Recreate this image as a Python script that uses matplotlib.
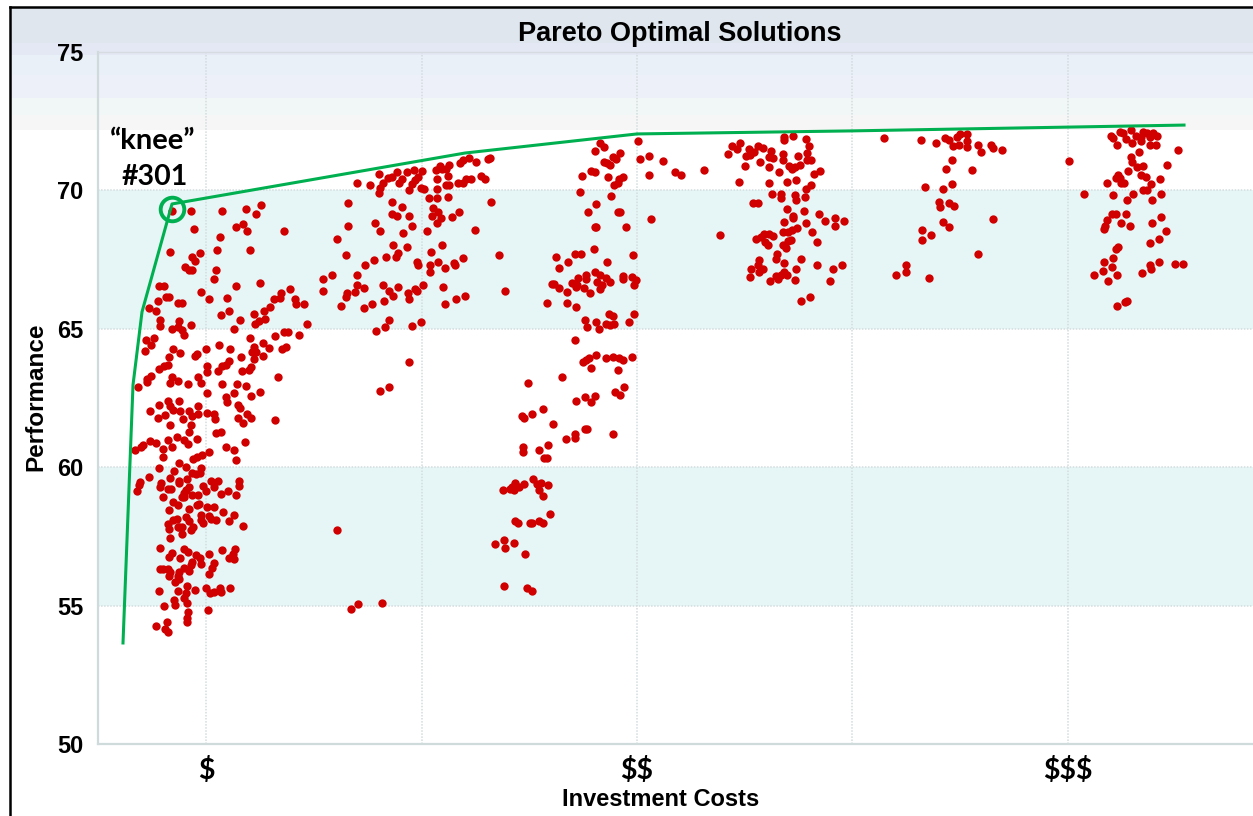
import numpy as np
import matplotlib
matplotlib.use("Agg")
import matplotlib.pyplot as plt
from matplotlib.lines import Line2D
from matplotlib.patches import Rectangle

W, H = 1253, 816

# cost has no numbers on the chart, the scale here is just one unit per pixel from the axis
cost_low_top = [74,93,124,148,163,158,96,138,145,149,186,122,72,102,94,97,119,152,87,91,94,118,116,61,66,138,162,103,68,71,60,111,129,192,183,182,176,80,84,197,198,206,172,51,58,166,131,123,156,167,142,161,157,62,81,62,93,74,80,84,86,136,209,186,190,201,177,152,48,56,53,47,165,156,121,75,108,132,82,99,97,171,188,184,154,158,143,165,71,156,131,128,124,120,109,109,70,66,61,153,144,53,49,74,100,180,151]
perf_low_top = [69.26,69.26,69.26,69.32,69.46,69.13,68.59,68.68,68.77,68.54,68.54,68.31,67.76,67.74,67.58,67.46,67.85,67.85,67.25,67.12,67.11,67.12,66.79,66.53,66.56,66.56,66.64,66.34,66.15,66.15,66.02,66.06,66.12,66.43,66.29,66.12,66.06,65.93,65.93,66.07,65.88,65.88,65.79,65.74,65.65,65.65,65.65,65.50,65.52,65.37,65.32,65.27,65.19,65.32,65.27,65.09,65.14,65.0,65.05,64.95,64.77,65.0,65.19,64.87,64.87,64.77,64.73,64.68,64.59,64.68,64.41,64.18,64.50,64.35,64.41,64.27,64.26,64.26,64.13,64.08,64.01,64.31,64.36,64.27,64.17,64.17,63.99,64.03,63.99,63.90,63.84,63.71,63.66,63.48,63.67,63.43,63.69,63.66,63.53,63.61,63.48,63.29,63.20,63.26,63.26,63.26,63.50]

cost_low_bottom = [40,49,72,80,90,103,124,139,148,109,136,128,129,153,162,81,70,61,72,75,52,82,91,100,140,142,60,67,85,94,100,109,116,117,140,149,153,145,177,72,93,91,118,123,79,70,52,58,45,43,37,86,90,99,74,65,65,147,128,136,111,104,99,95,138,81,61,88,103,76,102,94,98,51,72,89,42,41,39,63,62,81,81,70,73,113,120,141,141,105,116,108,91,88,86,84,86,65,123,130,138,94,100,75,80,101,99,109,116,71,91,125,136,103,111,118,113,88,91,79,75,70,71,81,80,84,95,93,103,105,131,145,84,72,62,86,90,124,137,135,111,74,71,82,98,102,131,136,94,103,116,93,86,62,65,70,72,71,81,80,91,114,111,81,77,89,61,80,97,108,112,116,122,123,132,88,86,89,76,77,66,110,90,89,89,69,58,67,70]
perf_low_bottom = [62.91,63.09,63.05,63.11,63.01,63.03,63.01,63.01,62.95,62.67,62.67,62.55,62.34,62.58,62.72,62.40,62.40,62.25,62.22,62.07,62.03,62.03,62.03,62.22,62.25,62.14,61.79,61.88,61.74,61.85,61.92,61.97,61.92,61.74,61.79,61.91,61.79,61.61,61.70,61.52,61.52,61.28,61.25,61.28,61.10,60.97,60.93,60.88,60.79,60.74,60.61,60.98,60.84,61.02,60.74,60.66,60.38,60.92,60.74,60.61,60.56,60.43,60.38,60.28,60.25,60.15,59.97,60.02,59.97,59.87,59.79,59.79,59.74,59.64,59.60,59.56,59.46,59.37,59.14,59.42,59.28,59.51,59.42,59.23,59.23,59.51,59.51,59.51,59.32,59.33,59.28,59.14,59.28,59.19,59.05,58.91,58.91,58.91,59.04,59.14,58.99,59.0,59.0,58.73,58.63,58.68,58.63,58.55,58.55,58.45,58.50,58.37,58.27,58.27,58.23,58.09,58.14,58.19,58.04,58.14,58.09,57.95,57.76,57.85,57.85,57.85,57.85,57.72,58.09,57.99,58.04,57.86,57.58,57.45,57.09,57.04,56.95,57.01,57.04,56.88,56.86,56.91,56.76,56.73,56.82,56.73,56.73,56.68,56.58,56.50,56.54,56.45,56.37,56.31,56.31,56.31,56.21,56.08,56.21,56.08,56.26,56.35,56.13,55.95,55.84,55.72,55.54,55.54,55.58,55.63,55.44,55.48,55.63,55.50,55.62,55.44,55.26,55.11,55.20,55.03,54.99,54.85,54.76,54.57,54.42,54.40,54.26,54.17,54.03]

cost_mid_left = [259,272,281,285,282,281,290,294,299,304,301,309,316,324,320,317,314,311,323,326,339,339,338,342,344,348,351,350,348,351,360,365,368,373,362,365,371,378,390,392,383,387,331,339,350,250,294,304,335,340,361,294,299,311,334,343,354,339,393,250,277,282,314,305,329,377,239,295,309,344,333,248,300,298,288,276,267,319,320,332,340,347,356,357,365,401,332,259,234,225,225,259,266,257,249,248,285,291,295,300,325,317,319,310,311,345,367,407,358,347,286,274,266,243,291,323,287,278,314,311,291,282,239,253,260,284]
perf_mid_left = [70.28,70.19,70.60,70.28,70.10,69.91,70.46,70.47,70.65,70.42,70.28,70.65,70.73,70.70,70.47,70.37,70.23,70.0,70.10,70.05,70.42,70.05,70.73,70.88,70.78,70.78,70.93,70.52,70.19,70.19,70.28,70.28,70.41,70.41,70.98,71.10,71.16,71.02,71.12,71.16,70.52,70.41,69.72,69.72,69.77,69.54,69.59,69.41,69.36,69.23,69.23,69.13,69.08,69.08,69.08,68.99,69.04,68.81,69.59,68.71,68.81,68.53,68.71,68.45,68.53,68.58,68.25,68.02,67.94,68.02,67.79,67.65,67.75,67.60,67.60,67.48,67.29,67.42,67.32,67.30,67.43,67.20,67.38,67.29,67.57,67.65,67.07,66.93,66.93,66.79,66.37,66.57,66.47,66.32,66.29,66.14,66.57,66.37,66.19,66.52,66.60,66.42,66.37,66.28,66.06,66.52,66.19,66.37,66.06,65.91,66.01,65.88,65.74,65.83,65.32,65.23,65.05,64.91,65.10,63.81,62.89,62.75,57.73,54.88,55.06,55.09]

cost_mid_top = [540,502,506,497,522,515,518,506,509,512,542,551,565,493,497,484,510,525,521,520,516,551,577,583,482,513,498,490,520,522,553,497,498,528,496,477,483,535,458,470,509,461,497,502,488,488,480,508,512,525,525,534,538,536,499,504,474,479,478,454,456,461,486,502,469,492,449,469,478,511,515,536,487,498,531,508,512,516,489,501,477,498,491,488,485,508,515,521,525,534,493,520]
perf_mid_top = [71.79,71.70,71.58,71.42,71.34,71.22,71.12,71.02,70.98,70.91,71.12,71.25,71.06,70.70,70.65,70.52,70.47,70.47,70.41,70.25,70.18,70.57,70.65,70.55,69.96,69.78,69.51,69.23,69.23,69.23,68.95,68.67,68.67,68.67,67.89,67.70,67.70,67.66,67.58,67.40,67.43,67.20,67.07,66.94,66.94,66.79,66.84,66.84,66.70,66.90,66.79,66.87,66.76,66.60,66.70,66.60,66.66,66.60,66.52,66.61,66.61,66.48,66.48,66.42,66.34,66.29,65.93,65.93,65.78,65.52,65.47,65.55,65.32,65.24,65.24,65.19,65.14,65.19,65.05,65.0,64.59,64.05,63.93,63.87,63.81,63.95,63.99,63.95,63.87,63.99,63.60,63.51]

cost_mid_bottom = [430,464,526,517,522,478,487,497,493,445,434,424,426,455,487,489,515,477,477,468,425,450,425,441,446,449,435,417,426,414,421,405,412,416,439,443,450,441,445,452,417,420,432,434,441,445,406,397,416,407,427,406,429,434]
perf_mid_bottom = [63.04,63.27,62.89,62.71,62.62,62.39,62.53,62.58,62.34,62.11,61.93,61.85,61.79,61.56,61.38,61.38,61.20,61.20,61.04,61.01,60.74,60.79,60.54,60.62,60.33,60.33,59.56,59.43,59.38,59.29,59.27,59.18,59.23,59.19,59.39,59.44,59.35,59.19,58.95,58.32,58.04,57.99,57.99,57.99,58.04,57.99,57.36,57.22,57.27,57.07,56.86,55.71,55.63,55.53]

cost_high_a = [695,686,686,708,711,642,634,639,630,651,660,665,656,652,648,673,671,675,685,685,709,700,709,713,662,647,671,691,694,697,702,681,606,716,722,641,671,689,698,713,708,674,683,683,697,698,707,655,660,689,706,695,695,721,737,727,746,686,708,737,699,694,685,690,714,622,666,671,675,658,663,693,690,719,667,670,685,688,679,678,703,661,660,686,719,744,698,735,653,665,661,686,683,689,678,652,680,672,697,732,703,712]
perf_high_a = [71.97,71.94,71.82,71.84,71.61,71.71,71.60,71.48,71.30,71.48,71.60,71.53,71.38,71.28,71.23,71.43,71.20,71.16,71.30,71.11,71.35,71.23,71.11,71.11,71.02,70.88,70.83,70.88,70.78,70.83,70.93,70.65,70.75,70.60,70.70,70.32,70.28,70.32,70.37,70.18,70.05,69.87,69.87,69.72,69.83,69.64,69.77,69.54,69.54,69.31,69.26,69.08,68.99,69.13,68.99,68.89,68.89,68.85,68.81,68.71,68.63,68.58,68.48,68.48,68.48,68.40,68.44,68.44,68.35,68.25,68.32,68.20,68.16,68.12,68.12,68.02,68.02,67.93,67.70,67.52,67.52,67.47,67.32,67.37,67.30,67.30,67.16,67.16,67.16,67.16,67.06,67.06,66.96,66.94,66.91,66.87,66.79,66.73,66.78,66.73,66.01,66.14]

cost_high_b = [786,823,838,847,851,862,859,869,869,855,861,869,880,893,895,904,883,854,848,874,854,827,845,841,851,856,842,895,845,851,824,833,824,880,808,808,798,831]
perf_high_b = [71.88,71.83,71.70,71.89,71.83,72.02,71.94,72.02,71.79,71.60,71.65,71.55,71.65,71.65,71.52,71.47,71.37,71.09,70.77,70.73,70.23,70.14,70.05,69.59,69.54,69.44,69.40,68.95,68.85,68.67,68.58,68.38,68.20,67.71,67.29,67.06,66.93,66.83]

cost_top = [1033,1022,1025,1013,1015,1028,1038,1043,1045,1049,1055,1059,1052,1043,1034,1019,1052,1058,1080,1041,971,1033,1034,1069,1045,1039,1030,1043,1048,1020,1018,1022,1062,1009,1023,1026,1053,1045,1049,1063,986,1015,1035,1029,1054,1014,1018,1028,1063,1009,1054,1023,1032,1007,1006,1068,1061,1052,1020,1018,1015,1006,1061,1052,1053,1014,1005,996,1019,1044,1077,1085,1010,1029,1027,1019]
perf_top = [72.20,72.12,72.06,71.97,71.89,71.84,71.97,71.94,72.12,72.06,72.08,71.97,71.94,71.79,71.70,71.65,71.65,71.65,71.47,71.38,71.06,71.20,71.01,70.91,70.88,70.83,70.69,70.55,70.50,70.55,70.46,70.46,70.41,70.27,70.27,70.27,70.23,70.0,70.0,69.87,69.87,69.82,69.87,69.67,69.67,69.13,69.13,69.13,69.03,68.94,68.84,68.81,68.71,68.71,68.61,68.53,68.25,68.11,67.97,67.88,67.56,67.43,67.43,67.29,67.15,67.24,67.09,66.93,66.93,67.01,67.34,67.34,66.73,66.02,65.96,65.83]

frontier_cost = [25, 35, 44, 74, 367, 539, 754, 1086]
frontier_perf = [53.65, 62.97, 65.61, 69.51, 71.35, 72.04, 72.15, 72.36]
knee_cost = 74
knee_perf = 69.33

grid_cost = [108, 324, 539, 754, 970]
cost_labels = [r"\$", "", r"\$\$", "", r"\$\$\$"]
perf_ticks = [50, 55, 60, 65, 70, 75]
shaded_bands = [(55, 60), (65, 70)]

# header stripes, top and bottom pixel row and colour
header_rows = [(8, 43, "#dfe6ee"), (43, 55, "#e4e8f5"), (55, 75, "#e9f0f8"),
               (75, 98, "#eef0f9"), (98, 115, "#f1f7f6"), (115, 130, "#f6f6f6")]

fig = plt.figure(figsize=(W / 100, H / 100), dpi=100, facecolor="white")

for top, bottom, colour in header_rows:
    fig.add_artist(Rectangle((11 / W, 1 - bottom / H), (W - 11) / W, (bottom - top) / H,
                             transform=fig.transFigure, facecolor=colour, edgecolor="none", zorder=-5))

ax = fig.add_axes([98 / W, 1 - 744 / H, (W - 98) / W, (744 - 52) / H])
ax.patch.set_alpha(0)
ax.set_xlim(0, W - 98)
ax.set_ylim(50, 75)

for low, high in shaded_bands:
    ax.axhspan(low, high, facecolor="#e6f6f7", edgecolor="none", zorder=0)

ax.set_xticks(grid_cost)
ax.set_xticklabels(cost_labels, family="Lato", fontweight="bold", fontsize=20.5)
ax.set_yticks(perf_ticks)
ax.set_yticklabels(perf_ticks, family="Liberation Sans", fontweight="bold", fontsize=17)
ax.tick_params(axis="both", length=0)
ax.tick_params(axis="x", pad=9)
ax.tick_params(axis="y", pad=10.5)
ax.grid(True, color="#d3dcde", linewidth=1.1, linestyle=(0, (1, 1)), zorder=1)
ax.set_axisbelow(True)

ax.spines["right"].set_visible(False)
ax.spines["top"].set_color("#d5dbe0")
ax.spines["top"].set_linewidth(1.0)
for side in ["left", "bottom"]:
    ax.spines[side].set_color("#cfdadb")
    ax.spines[side].set_linewidth(1.6)

costs = np.concatenate([cost_low_top, cost_low_bottom, cost_mid_left, cost_mid_top,
                        cost_mid_bottom, cost_high_a, cost_high_b, cost_top])
perfs = np.concatenate([perf_low_top, perf_low_bottom, perf_mid_left, perf_mid_top,
                        perf_mid_bottom, perf_high_a, perf_high_b, perf_top])
ax.scatter(costs, perfs, s=36, color="#d00000", linewidths=0, zorder=3)

ax.plot(frontier_cost, frontier_perf, color="#00b050", linewidth=2.2, zorder=4)
ax.plot([knee_cost], [knee_perf], marker="o", markersize=17, markerfacecolor="none",
        markeredgecolor="#00b050", markeredgewidth=2.8, zorder=5)

ax.text(55, 71.8, "\u201cknee\u201d", family="Lato", fontweight="bold", fontsize=21,
        ha="center", va="center", zorder=6)
ax.text(56.5, 70.47, "#301", family="Lato", fontweight="bold", fontsize=20.5,
        ha="center", va="center", zorder=6)

fig.text(680 / W, 1 - 34 / H, "Pareto Optimal Solutions", family="Liberation Sans",
         fontweight="bold", fontsize=19.5, ha="center", va="center")
fig.text(661 / W, 1 - 800 / H, "Investment Costs", family="Liberation Sans",
         fontweight="bold", fontsize=17, ha="center", va="center")
fig.text(36 / W, 1 - 397 / H, "Performance", family="Liberation Sans", fontweight="bold",
         fontsize=17.5, rotation=90, ha="center", va="center")

# black frame of the pasted screenshot
fig.add_artist(Line2D([10 / W, 10 / W], [0, 1 - 7 / H], color="black", linewidth=1.8))
fig.add_artist(Line2D([10 / W, 1], [1 - 7 / H, 1 - 7 / H], color="black", linewidth=1.8))

fig.savefig("out.png", dpi=100)
